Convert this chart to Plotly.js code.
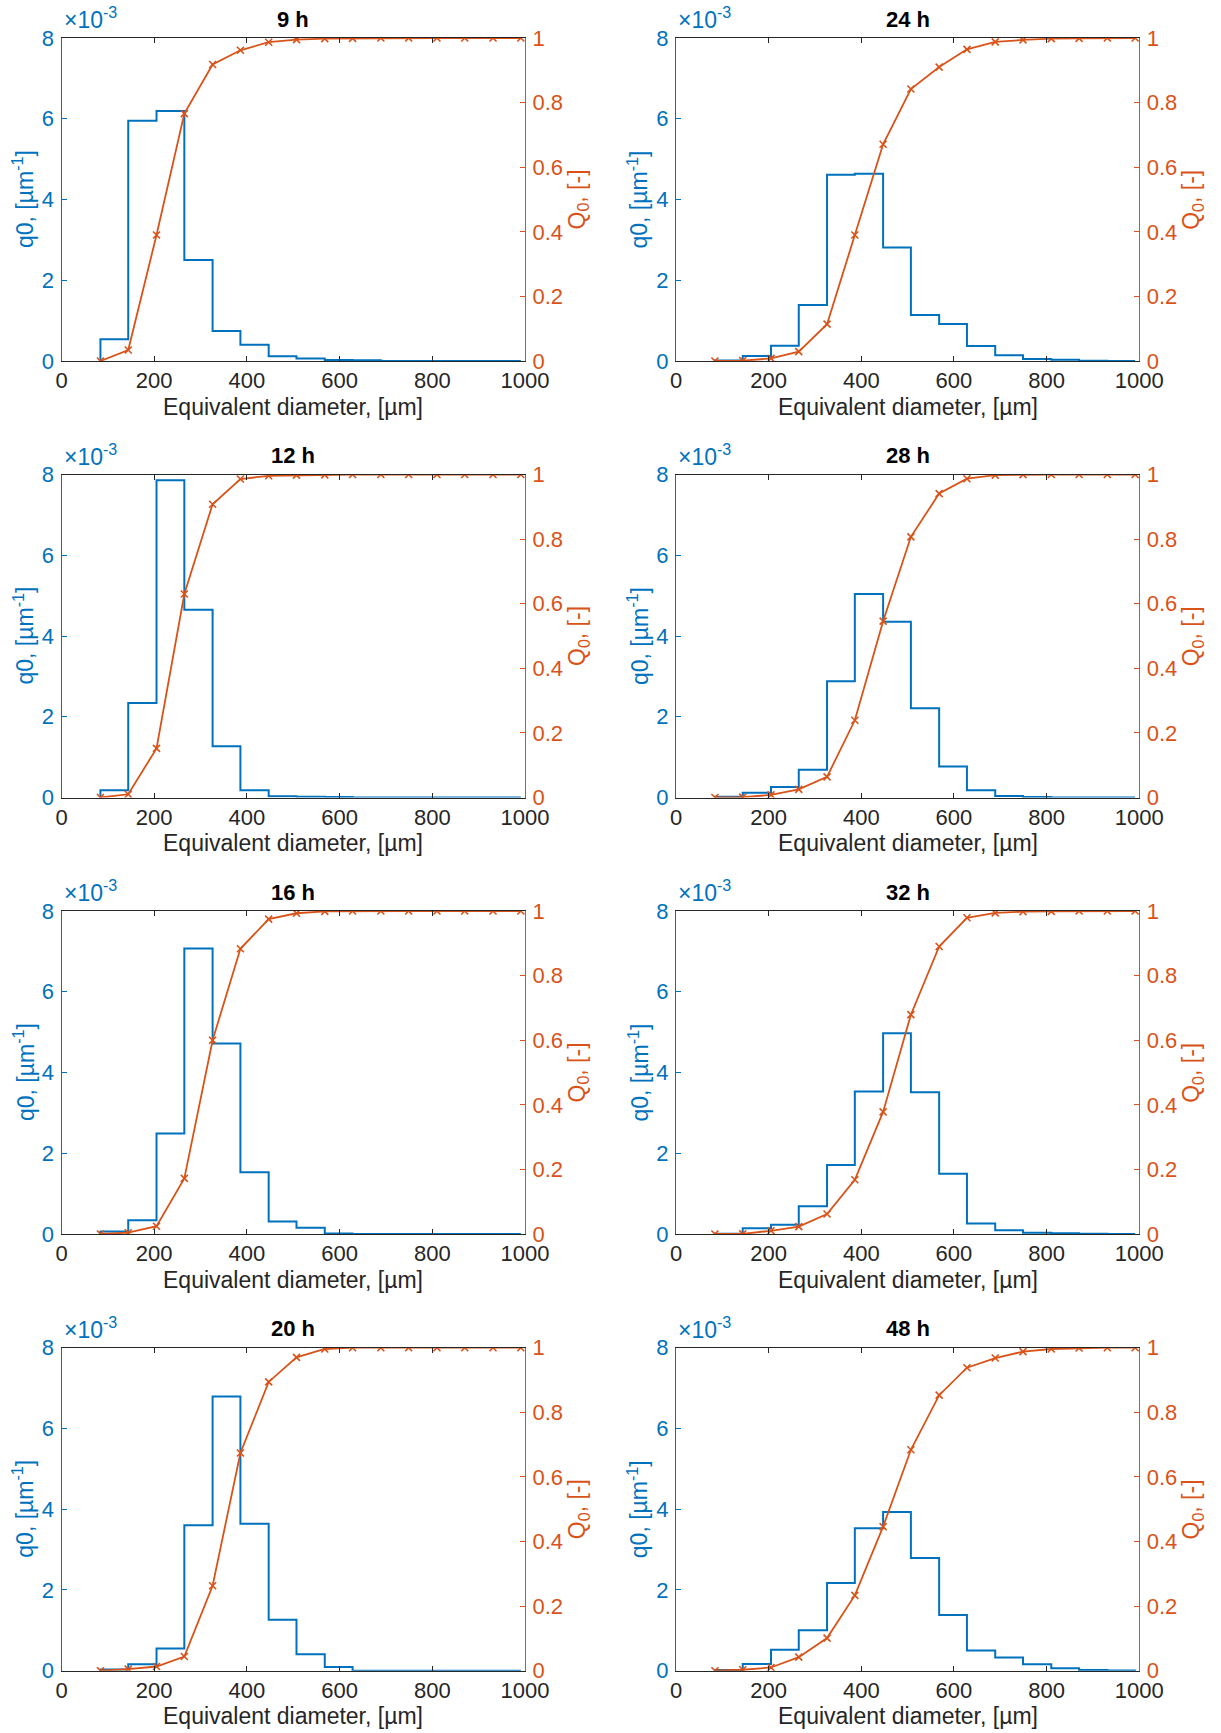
<!DOCTYPE html>
<html>
<head>
<meta charset="utf-8">
<script src="https://cdn.plot.ly/plotly-3.0.1.min.js"></script>
<style>html,body{margin:0;padding:0;background:#fff;}#chart{width:1221px;height:1733px;}</style>
</head>
<body>
<div id="chart"></div>
<script>
// Bin edges of the equivalent diameter, [µm]
const edges = [84, 144, 205, 265, 326, 386, 447, 507, 568, 628, 689, 749, 810, 870, 931, 991];

// Panel titles (row by row, left then right)
const titles = ['9 h', '24 h', '12 h', '28 h', '16 h', '32 h', '20 h', '48 h'];

// q0 density per bin, in units of 1e-3 µm^-1
const q0_9h  = [0.54, 5.95, 6.19, 2.50, 0.74, 0.40, 0.12, 0.06, 0.025, 0.02, 0, 0, 0, 0, 0];
const q0_12h = [0.18, 2.34, 7.86, 4.65, 1.27, 0.18, 0.03, 0.02, 0.01, 0, 0, 0, 0, 0, 0];
const q0_16h = [0.06, 0.34, 2.49, 7.07, 4.72, 1.53, 0.31, 0.157, 0.015, 0, 0, 0, 0, 0, 0];
const q0_20h = [0.03, 0.157, 0.55, 3.60, 6.79, 3.64, 1.26, 0.41, 0.09, 0, 0, 0, 0, 0, 0];
const q0_24h = [0.01, 0.124, 0.38, 1.39, 4.61, 4.64, 2.81, 1.14, 0.915, 0.37, 0.14, 0.05, 0.03, 0.005, 0];
const q0_28h = [0.02, 0.116, 0.26, 0.69, 2.88, 5.04, 4.35, 2.21, 0.77, 0.18, 0.04, 0.01, 0, 0, 0];
const q0_32h = [0.005, 0.14, 0.23, 0.69, 1.71, 3.53, 4.97, 3.51, 1.49, 0.26, 0.09, 0.03, 0.02, 0.005, 0];
const q0_48h = [0.015, 0.165, 0.52, 1.00, 2.17, 3.53, 3.93, 2.79, 1.38, 0.50, 0.33, 0.157, 0.06, 0.017, 0.005];

// Q0 cumulative distribution at the bin edges, [-]
const Q0_9h  = [0, 0.034, 0.39, 0.766, 0.918, 0.962, 0.987, 0.995, 0.998, 0.999, 1, 1, 1, 1, 1, 1];
const Q0_12h = [0, 0.01, 0.152, 0.63, 0.908, 0.986, 0.996, 0.998, 0.999, 1, 1, 1, 1, 1, 1, 1];
const Q0_16h = [0, 0.004, 0.024, 0.172, 0.60, 0.883, 0.975, 0.993, 0.999, 1, 1, 1, 1, 1, 1, 1];
const Q0_20h = [0, 0.005, 0.013, 0.044, 0.263, 0.674, 0.894, 0.970, 0.996, 1, 1, 1, 1, 1, 1, 1];
const Q0_24h = [0, 0.001, 0.008, 0.029, 0.114, 0.39, 0.671, 0.842, 0.910, 0.965, 0.988, 0.994, 0.998, 0.999, 1, 1];
const Q0_28h = [0, 0.001, 0.008, 0.025, 0.064, 0.239, 0.546, 0.807, 0.941, 0.987, 0.998, 0.9995, 1, 1, 1, 1];
const Q0_32h = [0, 0.0005, 0.010, 0.023, 0.062, 0.168, 0.378, 0.679, 0.89, 0.979, 0.994, 0.998, 0.999, 1, 1, 1];
const Q0_48h = [0, 0.003, 0.010, 0.042, 0.101, 0.233, 0.446, 0.684, 0.853, 0.938, 0.968, 0.988, 0.996, 0.999, 1, 1];

const q0Sets = [q0_9h, q0_24h, q0_12h, q0_28h, q0_16h, q0_32h, q0_20h, q0_48h];
const Q0Sets = [Q0_9h, Q0_24h, Q0_12h, Q0_28h, Q0_16h, Q0_32h, Q0_20h, Q0_48h];

const xTicks = [0, 200, 400, 600, 800, 1000];
const yTicks = [0, 2, 4, 6, 8];
const y2Ticks = [0, 0.2, 0.4, 0.6, 0.8, 1];

// ---- layout geometry (pixels) ----
const W = 1221, H = 1733;
const colX = [[61.5, 525], [676, 1139.3]];
const rowY = [[38, 361], [474.5, 797.5], [911, 1234], [1347.7, 1670.7]];
const BLUE = '#0072BD', ORANGE = '#D95319', DARK = '#262626';
const FONT = 'Liberation Sans, Arial, Helvetica, sans-serif';
const TICK = 22, LABEL = 23, TITLE = 22;
const px = x => x / W;
const py = y => 1 - y / H;

const data = [];
const layout = {
  width: W, height: H,
  margin: {l: 0, r: 0, t: 0, b: 0},
  paper_bgcolor: '#ffffff', plot_bgcolor: 'rgba(0,0,0,0)',
  showlegend: false,
  font: {family: FONT, size: TICK, color: DARK},
  annotations: []
};

for (let p = 0; p < 8; p++) {
  const col = p % 2, row = Math.floor(p / 2);
  const [x0, x1] = colX[col];
  const [yt, yb] = rowY[row];
  const xid = p === 0 ? 'x' : 'x' + (p + 1);
  const yL = 'y' + (2 * p + 1 === 1 ? '' : (2 * p + 1));
  const yR = 'y' + (2 * p + 2);
  const xKey = p === 0 ? 'xaxis' : 'xaxis' + (p + 1);
  const yLKey = 2 * p + 1 === 1 ? 'yaxis' : 'yaxis' + (2 * p + 1);
  const yRKey = 'yaxis' + (2 * p + 2);

  // stairs outline of the histogram
  const q = q0Sets[p];
  const sx = [edges[0]].concat(edges).concat([edges[edges.length - 1]]);
  const sy = [0].concat(q).concat([q[q.length - 1], 0]);
  data.push({
    type: 'scatter', mode: 'lines', x: sx, y: sy,
    xaxis: xid, yaxis: yL,
    line: {color: BLUE, width: 2, shape: 'hv'},
    hoverinfo: 'skip'
  });
  data.push({
    type: 'scatter', mode: 'lines+markers', x: edges, y: Q0Sets[p],
    xaxis: xid, yaxis: yR,
    line: {color: ORANGE, width: 1.8},
    marker: {symbol: 'x-thin-open', size: 7, color: ORANGE, line: {color: ORANGE, width: 1.6}},
    hoverinfo: 'skip'
  });

  layout[xKey] = {
    domain: [px(x0), px(x1)], anchor: yL,
    range: [0, 1000], tickvals: xTicks, ticktext: xTicks.map(String),
    ticks: 'inside', ticklen: 5, tickwidth: 1, tickcolor: DARK,
    showline: true, linecolor: DARK, linewidth: 1, mirror: 'ticks',
    showgrid: false, zeroline: false,
    tickfont: {family: FONT, size: TICK, color: DARK},
    ticklabelstandoff: 0
  };
  layout[yLKey] = {
    domain: [py(yb), py(yt)], anchor: xid, side: 'left',
    range: [0, 8], tickvals: yTicks, ticktext: yTicks.map(String),
    ticks: 'inside', ticklen: 5, tickwidth: 1, tickcolor: BLUE,
    showline: true, linecolor: BLUE, linewidth: 1,
    showgrid: false, zeroline: false,
    tickfont: {family: FONT, size: TICK, color: BLUE},
    ticklabelstandoff: 2
  };
  layout[yRKey] = {
    overlaying: yL, anchor: xid, side: 'right',
    range: [0, 1], tickvals: y2Ticks, ticktext: y2Ticks.map(String),
    ticks: 'inside', ticklen: 5, tickwidth: 1, tickcolor: ORANGE,
    showline: true, linecolor: ORANGE, linewidth: 1,
    showgrid: false, zeroline: false,
    tickfont: {family: FONT, size: TICK, color: ORANGE},
    ticklabelstandoff: 2
  };

  const cx = (x0 + x1) / 2, cy = (yt + yb) / 2;
  const ann = layout.annotations;
  ann.push({text: '<b>' + titles[p] + '</b>', xref: 'paper', yref: 'paper',
    x: px(cx), y: py(yt - 19), xanchor: 'center', yanchor: 'middle', showarrow: false,
    font: {family: FONT, size: TITLE, color: '#000000'}});
  ann.push({text: '\u00d710<sup>-3</sup>', xref: 'paper', yref: 'paper',
    x: px(x0), y: py(yt - 3), xanchor: 'left', yanchor: 'bottom', showarrow: false,
    font: {family: FONT, size: 23, color: BLUE}});
  ann.push({text: 'Equivalent diameter, [\u00b5m]', xref: 'paper', yref: 'paper',
    x: px(cx), y: py(yb + 45.5), xanchor: 'center', yanchor: 'middle', showarrow: false,
    font: {family: FONT, size: LABEL, color: DARK}});
  ann.push({text: 'q0, [\u00b5m<sup>-1</sup>]', xref: 'paper', yref: 'paper', textangle: -90,
    x: px(x0 - 38), y: py(cy), xanchor: 'center', yanchor: 'middle', showarrow: false,
    font: {family: FONT, size: LABEL, color: BLUE}});
  ann.push({text: 'Q<sub>0</sub>, [-]', xref: 'paper', yref: 'paper', textangle: -90,
    x: px(x1 + 53), y: py(cy), xanchor: 'center', yanchor: 'middle', showarrow: false,
    font: {family: FONT, size: LABEL, color: ORANGE}});
}

Plotly.newPlot('chart', data, layout, {staticPlot: true, displayModeBar: false});
</script>
</body>
</html>
